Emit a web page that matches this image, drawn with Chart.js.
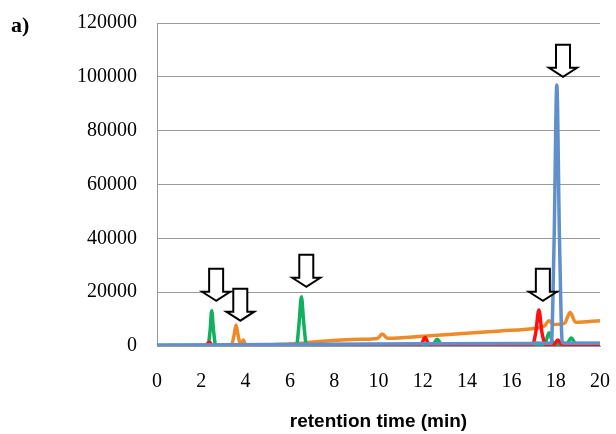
<!DOCTYPE html>
<html>
<head>
<meta charset="utf-8">
<script src="https://cdn.jsdelivr.net/npm/chart.js@4/dist/chart.umd.min.js"></script>
<style>
  html, body { margin: 0; padding: 0; background: #fff; }
  #graph-canvas { display: block; }
</style>
</head>
<body>
<canvas id="graph-canvas" width="616" height="434"></canvas>
<script>
// retention time (min) and detector signal per trace
const blueTime  = [0, 5, 12, 16.9, 17.1, 17.8, 17.93, 18.05, 18.17, 18.3, 18.6, 20];
const blueValue = [300, 600, 800, 900, 1100, 1000, 40000, 97000, 40000, 1200, 1000, 1000];

const redTime  = [0, 2.2, 2.36, 2.5, 11.9, 12.1, 12.3, 16.95, 17.1, 17.24, 17.38, 17.55, 17.9, 18.1, 18.3, 20];
const redValue = [0, 200, 1500, 200, 300, 3200, 300, 400, 5000, 13400, 5000, 400, 500, 2200, 500, 400];

const greenTime  = [0, 2.3, 2.4, 2.47, 2.55, 2.65, 6.3, 6.42, 6.52, 6.62, 6.75, 12.45, 12.65, 12.85, 17.5, 17.7, 17.9, 18.5, 18.7, 18.9, 20];
const greenValue = [300, 300, 6000, 13100, 6000, 300, 400, 9000, 18300, 9000, 400, 600, 2500, 600, 700, 4900, 800, 800, 3000, 900, 900];

const orangeTime  = [0, 3.35, 3.48, 3.57, 3.66, 3.78, 3.9, 4.0, 5, 6.5, 7.2, 9.2, 9.95, 10.17, 10.4, 12, 15.5, 17, 17.5, 17.7, 17.9, 18.4, 18.65, 18.9, 20];
const orangeValue = [0, 100, 4000, 7800, 4000, 300, 2200, 300, 400, 1000, 1600, 2500, 2800, 4450, 2900, 3600, 5600, 6500, 7500, 9400, 8000, 8500, 12400, 8800, 9400];

const purpleTime  = [0, 20];
const purpleValue = [0, 0];

// marker arrows: retention time and signal at the arrow tip
const arrowTime  = [2.67, 3.76, 6.74, 17.42, 18.33];
const arrowValue = [16800, 9400, 22000, 16800, 100000];

const xTicks = [0, 2, 4, 6, 8, 10, 12, 14, 16, 18, 20];

function points(t, v)
{
    return t.map(function (x, i) { return {x: x, y: v[i]}; });
}

function trace(data, colour)
{
    return {
        data: data,
        borderColor: colour,
        borderWidth: 3.5,
        pointRadius: 0,
        cubicInterpolationMode: 'monotone',
        fill: false
    };
}

const arrows = {
    id: 'arrows',
    afterDatasetsDraw(chart)
    {
        const c = chart.ctx;
        const xs = chart.scales.x, ys = chart.scales.y;
        c.save();
        c.fillStyle = '#fff';
        c.strokeStyle = '#000';
        c.lineWidth = 2;
        c.lineJoin = 'miter';
        for (var i = 0; i < arrowTime.length; i++)
        {
            const px = xs.getPixelForValue(arrowTime[i]);
            const py = ys.getPixelForValue(arrowValue[i]);
            c.beginPath();
            c.moveTo(px, py);
            c.lineTo(px - 14, py - 9);
            c.lineTo(px - 7, py - 9);
            c.lineTo(px - 7, py - 32);
            c.lineTo(px + 7, py - 32);
            c.lineTo(px + 7, py - 9);
            c.lineTo(px + 14, py - 9);
            c.closePath();
            c.fill();
            c.stroke();
        }
        c.font = 'bold 22px "Liberation Serif"';
        c.fillStyle = '#000';
        c.textBaseline = 'alphabetic';
        c.fillText('a)', 11, 32);
        c.restore();
    }
};

const ctx = document.getElementById('graph-canvas');

var chart = new Chart(ctx,
    {
    type: 'line',
    data:
    {
        datasets:
        [
            trace(points(blueTime, blueValue), '#5f90cc'),
            trace(points(redTime, redValue), '#ff1010'),
            trace(points(greenTime, greenValue), '#10b060'),
            trace(points(orangeTime, orangeValue), '#ee8a28'),
            trace(points(purpleTime, purpleValue), '#7d68a0')
        ]
    },
    options:
    {
        responsive: false,
        animation: false,
        layout: { padding: { left: 0, right: 16, top: 23, bottom: 0 } },
        plugins: { legend: { display: false }, tooltip: { enabled: false } },
        scales:
        {
            x:
            {
                type: 'linear',
                min: 0,
                max: 20,
                afterBuildTicks: function (scale) { scale.ticks = xTicks.map(function (v) { return {value: v}; }); },
                afterFit: function (scale)
                {
                    scale.height = 88;
                    scale.paddingLeft = 0;
                    scale.paddingRight = 0;
                },
                grid: { display: false, drawTicks: false },
                border: { color: '#999', width: 1 },
                ticks: { padding: 24, color: '#000', font: { family: '"Liberation Serif"', size: 20 } },
                title:
                {
                    display: true,
                    text: 'retention time (min)',
                    color: '#000',
                    padding: { top: 0, bottom: 1 },
                    font: { family: '"Liberation Sans"', size: 19, weight: 'bold' }
                }
            },
            y:
            {
                min: 0,
                max: 120000,
                afterFit: function (scale)
                {
                    scale.width = 157;
                    scale.paddingTop = 0;
                    scale.paddingBottom = 0;
                },
                grid: { color: '#9a9a9a', drawTicks: false },
                border: { color: '#999', width: 1 },
                ticks:
                {
                    stepSize: 20000,
                    padding: 20,
                    color: '#000',
                    font: { family: '"Liberation Serif"', size: 20 },
                    callback: function (v) { return String(v); }
                }
            }
        }
    },
    plugins: [arrows]
});
</script>
</body>
</html>
